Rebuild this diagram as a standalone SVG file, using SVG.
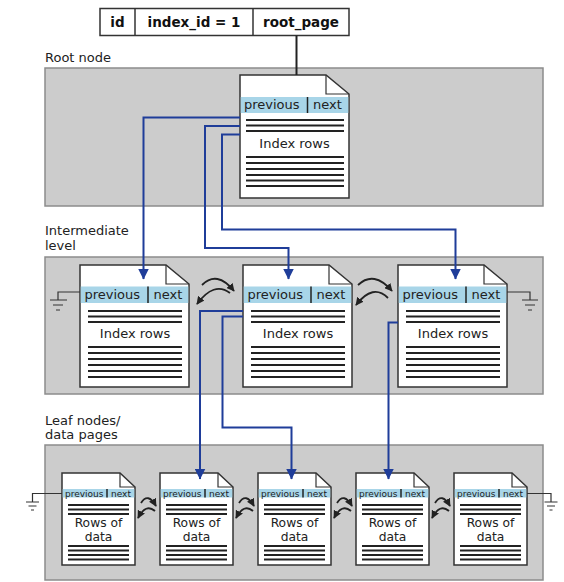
<svg xmlns="http://www.w3.org/2000/svg" width="564" height="582" viewBox="0 0 564 582">
<defs>
<style>
.panel{fill:#cccccc;stroke:#8c8c8c;stroke-width:1.5}
.lbl{font-family:"DejaVu Sans",Verdana,sans-serif;font-size:13px;fill:#222}
.tbl{fill:#fff;stroke:#333;stroke-width:1.5}
.tt{font-family:"DejaVu Sans",Verdana,sans-serif;font-size:13.5px;font-weight:bold;fill:#111;text-anchor:middle}
.doc{fill:#fff;stroke:#333;stroke-width:1.5;stroke-linejoin:miter}
.fold{fill:none;stroke:#333;stroke-width:1.2}
.hdr{fill:#a8d5e8}
.sep{stroke:#222;stroke-width:1.5}
.ht{font-family:"DejaVu Sans",Verdana,sans-serif;font-size:13px;fill:#222}
.lt{font-family:"DejaVu Sans",Verdana,sans-serif;font-size:9px;fill:#222}
.it{font-family:"DejaVu Sans",Verdana,sans-serif;font-size:13px;fill:#222;text-anchor:middle}
.dt{font-family:"DejaVu Sans",Verdana,sans-serif;font-size:12.3px;fill:#222;text-anchor:middle}
.rows{stroke:#222;stroke-width:2.2;fill:none}
.lrows{stroke:#222;stroke-width:2;fill:none}
.blue{fill:none;stroke:#1f3d99;stroke-width:2;marker-end:url(#bh)}
.curl{fill:none;stroke:#222;stroke-width:1.8;marker-end:url(#ah)}
.gnd{fill:none;stroke:#333;stroke-width:1.2}
</style>
<marker id="bh" viewBox="0 0 10 10" refX="9.5" refY="5" markerWidth="11" markerHeight="11" orient="auto" markerUnits="userSpaceOnUse"><path d="M0,0 L10,5 L0,10 Z" fill="#1f3d99"/></marker>
<marker id="ah" viewBox="0 0 10 10" refX="9" refY="5" markerWidth="8" markerHeight="8" orient="auto" markerUnits="userSpaceOnUse"><path d="M0,0 L10,5 L0,10 Z" fill="#222"/></marker>
</defs>

<g id="table">
<rect class="tbl" x="100" y="8.5" width="249" height="27"/>
<line class="tbl" x1="135" y1="8.5" x2="135" y2="35.5"/>
<line class="tbl" x1="253" y1="8.5" x2="253" y2="35.5"/>
<text class="tt" x="117.5" y="27">id</text>
<text class="tt" x="194" y="27">index_id = 1</text>
<text class="tt" x="301" y="27">root_page</text>
</g>

<g id="panels">
<text class="lbl" x="45" y="62">Root node</text>
<rect class="panel" x="45" y="68" width="498" height="138"/>
<text class="lbl" x="45" y="235">Intermediate</text>
<text class="lbl" x="45" y="250">level</text>
<rect class="panel" x="45" y="257" width="498" height="137"/>
<text class="lbl" x="45" y="425">Leaf nodes/</text>
<text class="lbl" x="45" y="439">data pages</text>
<rect class="panel" x="45" y="445" width="498" height="135"/>
</g>

<g id="grounds">
<path class="gnd" d="M80,292 H58 V300 M50,300 H67 M53,305 H63 M56,310 H60"/>
<path class="gnd" d="M507,292 H530 V300 M522,300 H538 M525,305 H535 M528,310 H532"/>
<path class="gnd" d="M62,493.5 H32.5 V502 M26,502 H39 M28.5,506 H36.5 M31,510 H34"/>
<path class="gnd" d="M527,493.5 H551 V502 M544.5,502 H557.5 M547,506 H555 M549.5,510 H552.5"/>
</g>

<g id="root" transform="translate(240,75)">
<path class="doc" d="M0,0 H86 L109,19 V123 H0 Z"/>
<path class="fold" d="M86,0 V19 H109"/>
<rect class="hdr" x="0.75" y="22" width="107.5" height="16"/>
<line class="sep" x1="67.5" y1="22" x2="67.5" y2="38"/>
<text class="ht" x="4" y="34">previous</text>
<text class="ht" x="73" y="34">next</text>
<path class="rows" d="M6,45H104M6,50.5H104M6,56H104M6,82H104M6,88H104M6,94H104M6,100H104M6,105.5H104M6,111H104"/>
<text class="it" x="54.5" y="73">Index rows</text>
</g>

<g id="int1" transform="translate(80,265)">
<path class="doc" d="M0,0 H86 L109,19 V122 H0 Z"/>
<path class="fold" d="M86,0 V19 H109"/>
<rect class="hdr" x="0.75" y="21.5" width="107.5" height="16.5"/>
<line class="sep" x1="68" y1="21.5" x2="68" y2="38"/>
<text class="ht" x="4.5" y="34">previous</text>
<text class="ht" x="73.5" y="34">next</text>
<path class="rows" d="M8,46H102M8,51.5H102M8,57H102M8,82H102M8,88H102M8,94H102M8,100H102M8,106H102M8,112H102"/>
<text class="it" x="55" y="73">Index rows</text>
</g>

<g id="int2" transform="translate(243,265)">
<path class="doc" d="M0,0 H86 L109,19 V122 H0 Z"/>
<path class="fold" d="M86,0 V19 H109"/>
<rect class="hdr" x="0.75" y="21.5" width="107.5" height="16.5"/>
<line class="sep" x1="68" y1="21.5" x2="68" y2="38"/>
<text class="ht" x="4.5" y="34">previous</text>
<text class="ht" x="73.5" y="34">next</text>
<path class="rows" d="M8,46H102M8,51.5H102M8,57H102M8,82H102M8,88H102M8,94H102M8,100H102M8,106H102M8,112H102"/>
<text class="it" x="55" y="73">Index rows</text>
</g>

<g id="int3" transform="translate(398,265)">
<path class="doc" d="M0,0 H86 L109,19 V122 H0 Z"/>
<path class="fold" d="M86,0 V19 H109"/>
<rect class="hdr" x="0.75" y="21.5" width="107.5" height="16.5"/>
<line class="sep" x1="68" y1="21.5" x2="68" y2="38"/>
<text class="ht" x="4.5" y="34">previous</text>
<text class="ht" x="73.5" y="34">next</text>
<path class="rows" d="M8,46H102M8,51.5H102M8,57H102M8,82H102M8,88H102M8,94H102M8,100H102M8,106H102M8,112H102"/>
<text class="it" x="55" y="73">Index rows</text>
</g>

<g id="leaf1" transform="translate(62,473)">
<path class="doc" d="M0,0 H58 L73,14 V92 H0 Z"/>
<path class="fold" d="M58,0 V14 H73"/>
<rect class="hdr" x="0.75" y="16" width="71.5" height="8.5"/>
<line class="sep" x1="45" y1="16" x2="45" y2="24.5"/>
<text class="lt" x="3" y="23.5">previous</text>
<text class="lt" x="49" y="23.5">next</text>
<path class="lrows" d="M6,32H67M6,36.5H67M6,41H67M6,73H67M6,77.5H67M6,82H67M6,86.5H67"/>
<text class="dt" x="36.5" y="53.5">Rows of</text>
<text class="dt" x="36.5" y="67.7">data</text>
</g>

<g id="leaf2" transform="translate(160,473)">
<path class="doc" d="M0,0 H58 L73,14 V92 H0 Z"/>
<path class="fold" d="M58,0 V14 H73"/>
<rect class="hdr" x="0.75" y="16" width="71.5" height="8.5"/>
<line class="sep" x1="45" y1="16" x2="45" y2="24.5"/>
<text class="lt" x="3" y="23.5">previous</text>
<text class="lt" x="49" y="23.5">next</text>
<path class="lrows" d="M6,32H67M6,36.5H67M6,41H67M6,73H67M6,77.5H67M6,82H67M6,86.5H67"/>
<text class="dt" x="36.5" y="53.5">Rows of</text>
<text class="dt" x="36.5" y="67.7">data</text>
</g>

<g id="leaf3" transform="translate(258,473)">
<path class="doc" d="M0,0 H58 L73,14 V92 H0 Z"/>
<path class="fold" d="M58,0 V14 H73"/>
<rect class="hdr" x="0.75" y="16" width="71.5" height="8.5"/>
<line class="sep" x1="45" y1="16" x2="45" y2="24.5"/>
<text class="lt" x="3" y="23.5">previous</text>
<text class="lt" x="49" y="23.5">next</text>
<path class="lrows" d="M6,32H67M6,36.5H67M6,41H67M6,73H67M6,77.5H67M6,82H67M6,86.5H67"/>
<text class="dt" x="36.5" y="53.5">Rows of</text>
<text class="dt" x="36.5" y="67.7">data</text>
</g>

<g id="leaf4" transform="translate(356,473)">
<path class="doc" d="M0,0 H58 L73,14 V92 H0 Z"/>
<path class="fold" d="M58,0 V14 H73"/>
<rect class="hdr" x="0.75" y="16" width="71.5" height="8.5"/>
<line class="sep" x1="45" y1="16" x2="45" y2="24.5"/>
<text class="lt" x="3" y="23.5">previous</text>
<text class="lt" x="49" y="23.5">next</text>
<path class="lrows" d="M6,32H67M6,36.5H67M6,41H67M6,73H67M6,77.5H67M6,82H67M6,86.5H67"/>
<text class="dt" x="36.5" y="53.5">Rows of</text>
<text class="dt" x="36.5" y="67.7">data</text>
</g>

<g id="leaf5" transform="translate(454,473)">
<path class="doc" d="M0,0 H58 L73,14 V92 H0 Z"/>
<path class="fold" d="M58,0 V14 H73"/>
<rect class="hdr" x="0.75" y="16" width="71.5" height="8.5"/>
<line class="sep" x1="45" y1="16" x2="45" y2="24.5"/>
<text class="lt" x="3" y="23.5">previous</text>
<text class="lt" x="49" y="23.5">next</text>
<path class="lrows" d="M6,32H67M6,36.5H67M6,41H67M6,73H67M6,77.5H67M6,82H67M6,86.5H67"/>
<text class="dt" x="36.5" y="53.5">Rows of</text>
<text class="dt" x="36.5" y="67.7">data</text>
</g>

<g id="connectors">
<line x1="296.5" y1="35.5" x2="296.5" y2="75" stroke="#222" stroke-width="2"/>
<path class="blue" d="M240,117.5 H143.5 V279"/>
<path class="blue" d="M240,126 H205 V248 H288.5 V279"/>
<path class="blue" d="M240,134.5 H222 V229.5 H455.5 V279"/>
<path class="blue" d="M243,311 H200 V479"/>
<path class="blue" d="M243,316.5 H222.5 V427.5 H291.5 V479"/>
<path class="blue" d="M398,322.5 H388.5 V479"/>
<path class="curl" d="M202,285 Q217,270 234,291"/>
<path class="curl" d="M230,293 Q214,281 197,304"/>
<path class="curl" d="M358,285 Q374,270 392,291"/>
<path class="curl" d="M388,298 Q373,283 356,305"/>
<path class="curl" d="M141,503 Q148,492 156,506"/>
<path class="curl" d="M155,511 Q146,503 138,518"/>
<path class="curl" d="M239,503 Q246,492 254,506"/>
<path class="curl" d="M253,511 Q244,503 236,518"/>
<path class="curl" d="M337,503 Q344,492 352,506"/>
<path class="curl" d="M351,511 Q342,503 334,518"/>
<path class="curl" d="M435,503 Q442,492 450,506"/>
<path class="curl" d="M449,511 Q440,503 432,518"/>
</g>
</svg>
